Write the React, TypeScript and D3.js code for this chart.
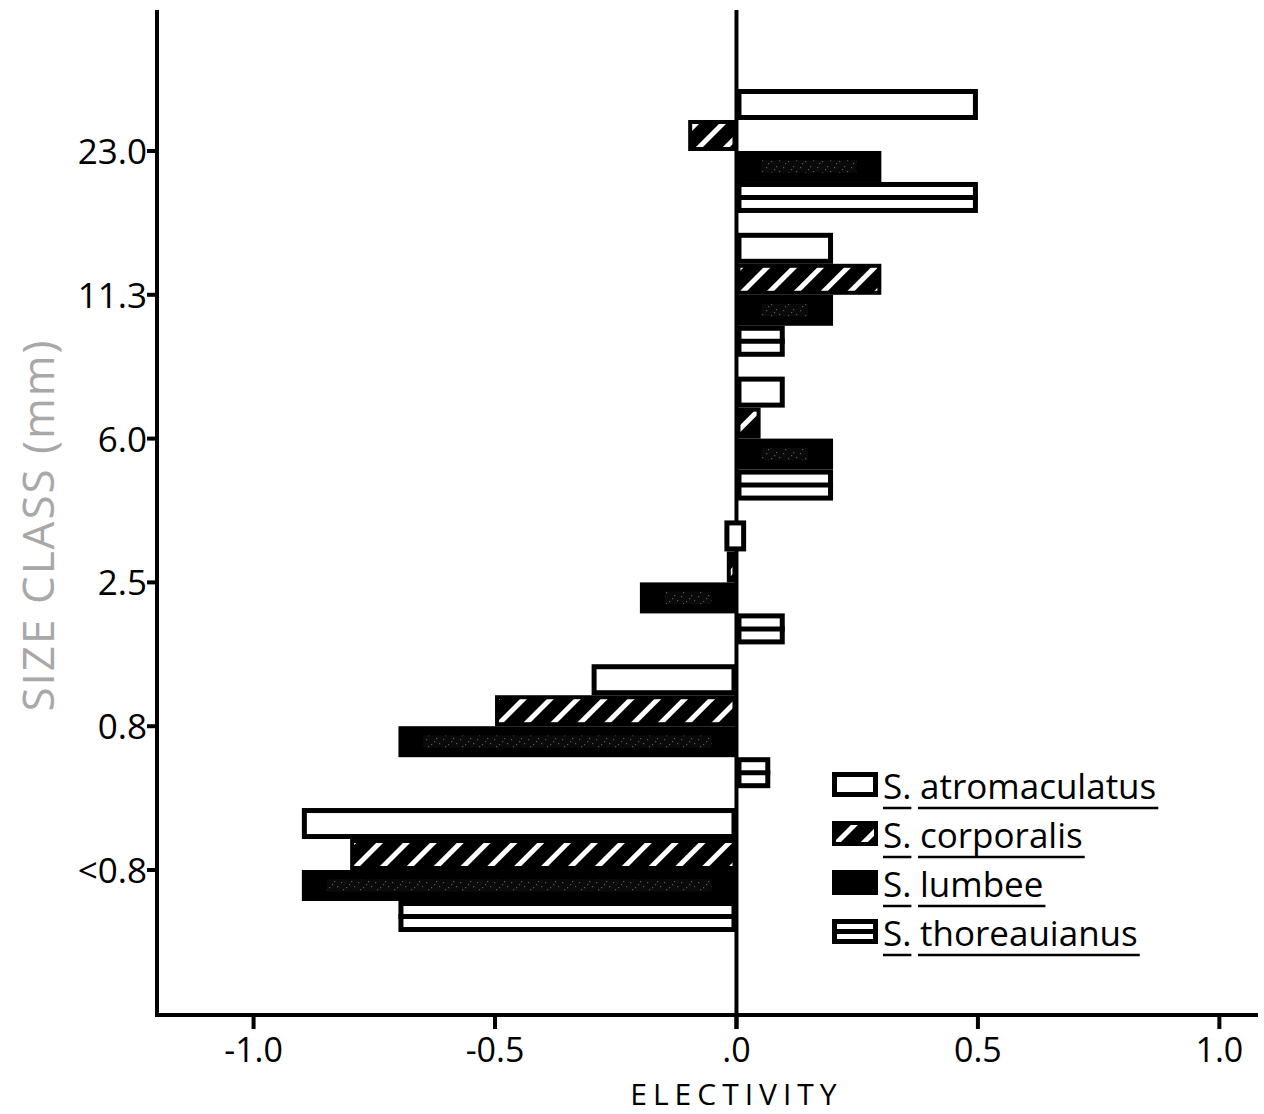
import React, { useEffect, useRef } from "react";
import * as d3 from "d3";

const groups = ["23.0", "11.3", "6.0", "2.5", "0.8", "<0.8"];
const seriesNames = ["atromaculatus", "corporalis", "lumbee", "thoreauianus"];
const atromaculatus = [0.5, 0.2, 0.1, 0.0, -0.3, -0.9];
const corporalis = [-0.1, 0.3, 0.05, -0.02, -0.5, -0.8];
const lumbee = [0.3, 0.2, 0.2, -0.2, -0.7, -0.9];
const thoreauianus = [0.5, 0.1, 0.2, 0.1, 0.07, -0.7];
const xTickValues = [-1.0, -0.5, 0, 0.5, 1.0];
const xTickLabels = ["-1.0", "-0.5", ".0", "0.5", "1.0"];

const FONT = "'Open Sans', 'DejaVu Sans', sans-serif";

export default function App() {
  const ref = useRef<SVGSVGElement | null>(null);

  useEffect(() => {
    const svg = d3.select(ref.current);
    svg.selectAll("*").remove();

    const left = 157, right = 1258, top = 10, bottom = 1015;
    const x = d3.scaleLinear().domain([-1.2, 1.08]).range([left, right]);
    const y = d3.scaleBand<string>().domain(groups).range([89, 932]).paddingInner(0.138).paddingOuter(0);
    const ySub = d3.scaleBand<string>().domain(seriesNames).range([0, y.bandwidth()]).padding(0);

    const defs = svg.append("defs");
    const hatch = defs.append("pattern").attr("id", "hatch").attr("patternUnits", "userSpaceOnUse")
      .attr("width", 19).attr("height", 19).attr("patternTransform", "rotate(45)");
    hatch.append("rect").attr("width", 19).attr("height", 19).attr("fill", "#000");
    hatch.append("rect").attr("x", 7).attr("y", 0).attr("width", 5).attr("height", 19).attr("fill", "#fff");

    const speck = defs.append("pattern").attr("id", "speck").attr("patternUnits", "userSpaceOnUse")
      .attr("width", 17).attr("height", 11);
    speck.append("rect").attr("width", 17).attr("height", 11).attr("fill", "#0a0a0a");
    [[1, 2], [6, 7], [11, 1], [14, 6], [3, 9], [9, 4]].forEach(([a, b]) => {
      speck.append("rect").attr("x", a).attr("y", b).attr("width", 1.2).attr("height", 1.2).attr("fill", "#5a5a5a");
    });

    // axes lines
    const g = svg.append("g");
    g.append("line").attr("x1", left).attr("x2", left).attr("y1", top).attr("y2", bottom + 2)
      .attr("stroke", "#000").attr("stroke-width", 4);
    g.append("line").attr("x1", left - 2).attr("x2", right).attr("y1", bottom).attr("y2", bottom)
      .attr("stroke", "#000").attr("stroke-width", 4);
    g.append("line").attr("x1", x(0)).attr("x2", x(0)).attr("y1", top).attr("y2", bottom + 14)
      .attr("stroke", "#000").attr("stroke-width", 4);

    // x ticks
    xTickValues.forEach((v, i) => {
      g.append("line").attr("x1", x(v)).attr("x2", x(v)).attr("y1", bottom).attr("y2", bottom + 14)
        .attr("stroke", "#000").attr("stroke-width", 4);
      g.append("text").attr("x", x(v)).attr("y", 1062).attr("text-anchor", "middle")
        .attr("font-family", FONT).attr("font-size", 34).attr("fill", "#000").text(xTickLabels[i]);
    });
    g.append("text").attr("x", x(0)).attr("y", 1105).attr("text-anchor", "middle")
      .attr("font-family", FONT).attr("font-size", 30).attr("letter-spacing", 6).attr("fill", "#000").text("ELECTIVITY");

    // y ticks
    groups.forEach((gr) => {
      const cy = (y(gr) as number) + y.bandwidth() / 2;
      g.append("line").attr("x1", left - 10).attr("x2", left).attr("y1", cy).attr("y2", cy)
        .attr("stroke", "#000").attr("stroke-width", 4);
      g.append("text").attr("x", left - 10).attr("y", cy + 13).attr("text-anchor", "end")
        .attr("font-family", FONT).attr("font-size", 35).attr("fill", "#000").text(gr);
    });
    g.append("text").attr("transform", `translate(54,525) rotate(-90)`).attr("text-anchor", "middle")
      .attr("font-family", FONT).attr("font-size", 44).attr("letter-spacing", 2).attr("fill", "#a8a8a8").text("SIZE CLASS (mm)");

    const data: Record<string, number[]> = { atromaculatus, corporalis, lumbee, thoreauianus };

    const drawBar = (sel: any, name: string, x0: number, x1: number, yy: number, h: number) => {
      const w = Math.max(x1 - x0, 1);
      if (name === "atromaculatus") {
        sel.append("rect").attr("x", x0 + 2.5).attr("y", yy + 2.5).attr("width", Math.max(w - 5, 1)).attr("height", h - 5)
          .attr("fill", "#fff").attr("stroke", "#000").attr("stroke-width", 5);
      } else if (name === "corporalis") {
        sel.append("rect").attr("x", x0 + 2).attr("y", yy + 2).attr("width", Math.max(w - 4, 1)).attr("height", h - 4)
          .attr("fill", "url(#hatch)").attr("stroke", "#000").attr("stroke-width", 4);
      } else if (name === "lumbee") {
        sel.append("rect").attr("x", x0).attr("y", yy).attr("width", w).attr("height", h).attr("fill", "#000");
        if (w > 60) {
          sel.append("rect").attr("x", x0 + 25).attr("y", yy + h * 0.3).attr("width", w - 50).attr("height", h * 0.4)
            .attr("fill", "url(#speck)");
        }
      } else {
        sel.append("rect").attr("x", x0 + 2.5).attr("y", yy + 2.5).attr("width", Math.max(w - 5, 1)).attr("height", h - 5)
          .attr("fill", "#fff").attr("stroke", "#000").attr("stroke-width", 5);
        sel.append("line").attr("x1", x0).attr("x2", x0 + w).attr("y1", yy + h / 2).attr("y2", yy + h / 2)
          .attr("stroke", "#000").attr("stroke-width", 5);
      }
    };

    const bars = svg.append("g");
    groups.forEach((gr, gi) => {
      seriesNames.forEach((name) => {
        const v = data[name][gi];
        const yy = (y(gr) as number) + (ySub(name) as number);
        const h = ySub.bandwidth();
        let x0: number, x1: number;
        if (v === 0) {
          x0 = x(-0.025); x1 = x(0.02);
        } else {
          x0 = Math.min(x(0), x(v)); x1 = Math.max(x(0), x(v));
        }
        drawBar(bars, name, x0, x1, yy, h);
      });
    });

    // legend
    const leg = svg.append("g");
    const legTop = 772;
    seriesNames.forEach((name, i) => {
      const yy = legTop + i * 49;
      drawBar(leg, name, 832, 878, yy, 25);
      const t1 = leg.append("text").attr("x", 883).attr("y", yy + 27).attr("font-family", FONT)
        .attr("font-size", 35).attr("fill", "#000").text("S.");
      const t2 = leg.append("text").attr("x", 920).attr("y", yy + 27).attr("font-family", FONT)
        .attr("font-size", 35).attr("fill", "#000").text(name);
      const w1 = (t1.node() as SVGTextElement).getComputedTextLength();
      const w2 = (t2.node() as SVGTextElement).getComputedTextLength();
      leg.append("line").attr("x1", 883).attr("x2", 883 + w1).attr("y1", yy + 36).attr("y2", yy + 36)
        .attr("stroke", "#000").attr("stroke-width", 2.5);
      leg.append("line").attr("x1", 918).attr("x2", 922 + w2).attr("y1", yy + 36).attr("y2", yy + 36)
        .attr("stroke", "#000").attr("stroke-width", 2.5);
    });
  }, []);

  return (
    <svg ref={ref} width={1264} height={1114}
      style={{ position: "absolute", left: 0, top: 0, background: "#fff" }} />
  );
}
